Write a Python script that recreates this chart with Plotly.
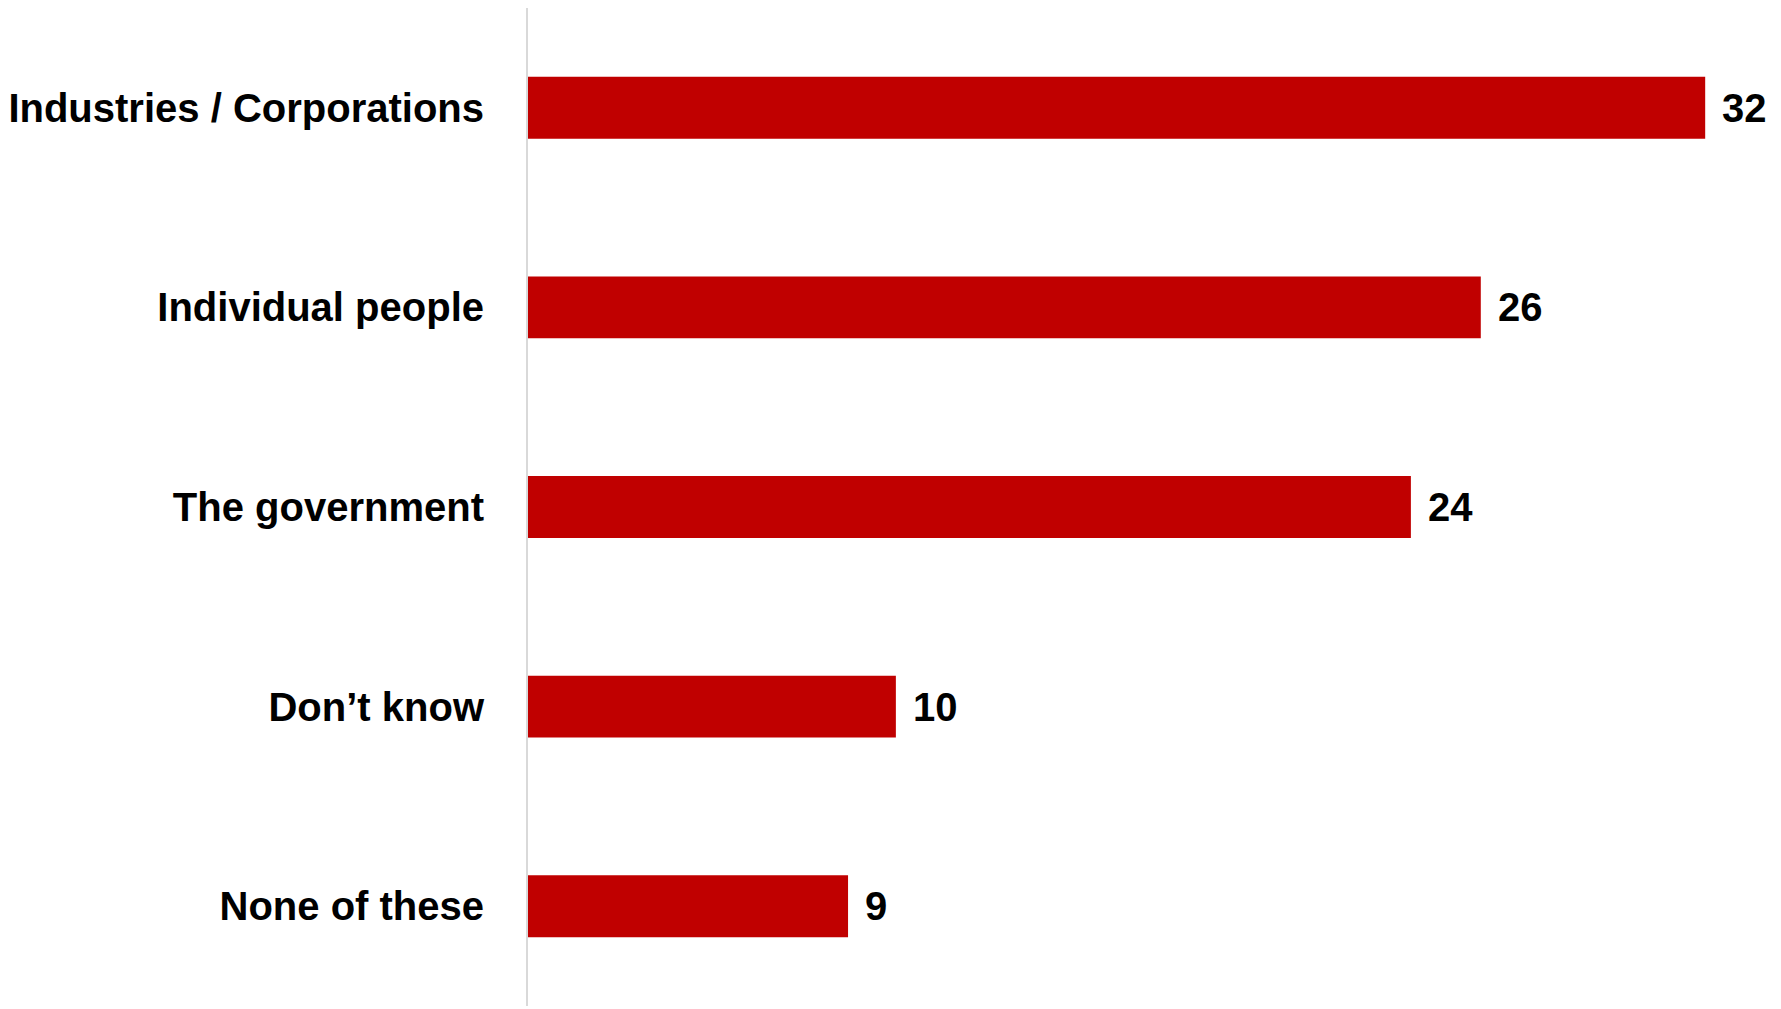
import plotly.graph_objects as go

categories = ["Industries / Corporations", "Individual people", "The government", "Don\u2019t know", "None of these"]
values = [32, 25.9, 24, 10, 8.7]
labels = ["32", "26", "24", "10", "9"]

BAR_COLOR = "#C00000"
FONT = "Liberation Sans, Arial, sans-serif"

fig = go.Figure()
fig.add_trace(go.Bar(
    y=categories,
    x=values,
    orientation="h",
    marker=dict(color=BAR_COLOR, line=dict(width=0)),
    width=0.31,
    hoverinfo="skip",
))

for c, v, t in zip(categories, values, labels):
    fig.add_annotation(
        x=v, y=c, text="<b>%s</b>" % t, showarrow=False,
        xanchor="left", yanchor="middle", xshift=15,
        font=dict(family=FONT, size=40, color="#000000"),
    )

fig.update_layout(
    width=1781, height=1009,
    margin=dict(l=514, r=29, t=0, b=11, pad=0),
    paper_bgcolor="white", plot_bgcolor="white",
    showlegend=False,
    xaxis=dict(range=[0, 33.49], visible=False, fixedrange=True),
    yaxis=dict(
        autorange="reversed",
        categoryorder="array", categoryarray=categories,
        showline=True, linecolor="#d9d9d9", linewidth=2,
        showgrid=False, zeroline=False,
        ticks="", ticklabelstandoff=34,
        tickfont=dict(family=FONT, size=40, color="#000000"),
        tickvals=categories,
        ticktext=["<b>%s</b>" % c for c in categories],
    ),
)

fig.write_html("out.html")
